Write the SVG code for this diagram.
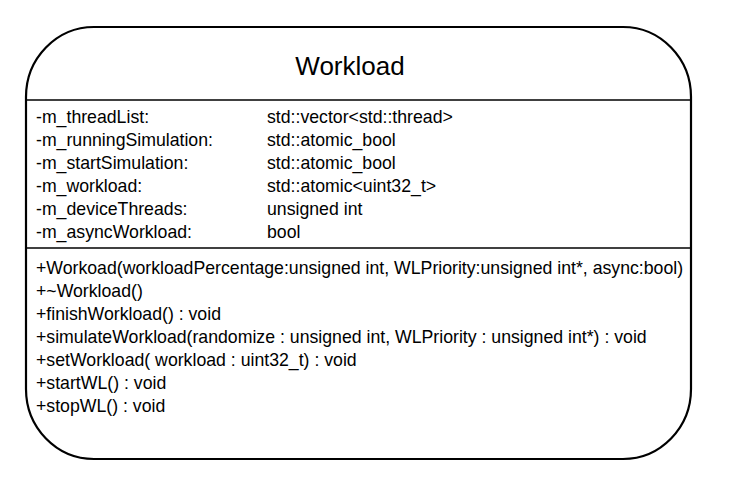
<svg xmlns="http://www.w3.org/2000/svg" width="730" height="492" viewBox="0 0 730 492">
<style>
.box{fill:#fff;stroke:#000;stroke-width:2.2}
.div{stroke:#000;stroke-width:1.3}
text{font-family:"Liberation Sans",Arial,sans-serif;fill:#000}
.t{font-size:26px}
.r{font-size:17.7px}
</style>
<rect width="730" height="492" fill="#fff"/>
<g id="workload">
<rect class="box" x="26" y="27" width="665" height="432" rx="68" ry="70"/>
<line class="div" x1="26" y1="100" x2="691" y2="100"/>
<line class="div" x1="26" y1="248" x2="691" y2="248"/>
<text class="t" x="350" y="75" text-anchor="middle">Workload</text>
<g class="r">
<text x="36" y="123">-m_threadList:</text>
<text x="36" y="146">-m_runningSimulation:</text>
<text x="36" y="169">-m_startSimulation:</text>
<text x="36" y="192">-m_workload:</text>
<text x="36" y="215">-m_deviceThreads:</text>
<text x="36" y="238">-m_asyncWorkload:</text>
<text x="267" y="123">std::vector&lt;std::thread&gt;</text>
<text x="267" y="146">std::atomic_bool</text>
<text x="267" y="169">std::atomic_bool</text>
<text x="267" y="192">std::atomic&lt;uint32_t&gt;</text>
<text x="267" y="215">unsigned int</text>
<text x="267" y="238">bool</text>
<text x="36" y="274">+Workoad(workloadPercentage:unsigned int, WLPriority:unsigned int*, async:bool)</text>
<text x="36" y="297">+~Workload()</text>
<text x="36" y="320">+finishWorkload() : void</text>
<text x="36" y="343">+simulateWorkload(randomize : unsigned int, WLPriority : unsigned int*) : void</text>
<text x="36" y="366">+setWorkload( workload : uint32_t) : void</text>
<text x="36" y="389">+startWL() : void</text>
<text x="36" y="412">+stopWL() : void</text>
</g>
</g>
<g id="connectors"/>
</svg>
